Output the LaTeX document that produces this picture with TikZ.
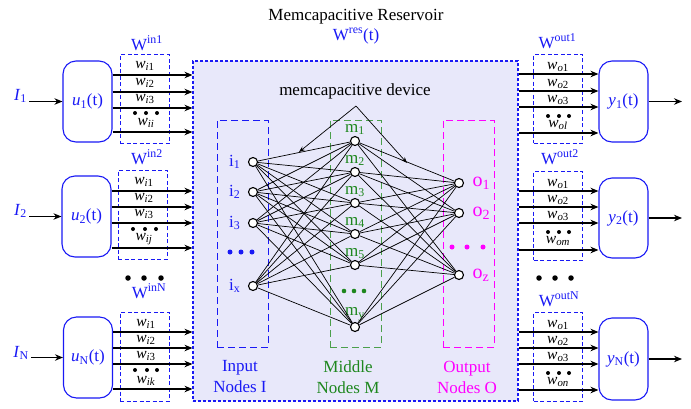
\documentclass[tikz,border=0pt]{standalone}
\usepackage{fontspec}
\setmainfont{Liberation Serif}
\usetikzlibrary{arrows.meta}
\definecolor{resblue}{RGB}{25,25,245}
\definecolor{resgreen}{RGB}{30,135,30}
\definecolor{resmag}{RGB}{255,0,255}
\definecolor{resfill}{RGB}{232,232,250}
\begin{document}
\begin{tikzpicture}[x=1pt,y=-1pt,
  font=\fontsize{17}{21}\selectfont,
  arr/.style={-{Stealth[length=8pt,width=6.5pt]}, line width=1.1pt},
  thinarr/.style={-{Stealth[length=6pt,width=4.5pt]}, line width=0.7pt},
  unit/.style={draw=resblue, line width=1.1pt, rounded corners=13pt,
    minimum width=49pt, minimum height=81pt, inner sep=0pt, text=resblue},
  wbox/.style={draw=resblue, dash pattern=on 4pt off 2.5pt, line width=1pt,
    minimum width=49pt, minimum height=89pt, inner sep=0pt},
  grpbox/.style={dash pattern=on 7pt off 4pt, line width=1pt,
    minimum width=51pt, minimum height=227pt, inner sep=0pt},
  wlab/.style={font=\fontsize{15.5}{18}\selectfont, anchor=base, inner sep=0pt},
  wtitle/.style={anchor=base, inner sep=0pt, text=resblue},
  ilab/.style={anchor=base east, inner sep=2pt, text=resblue},
  neuron/.style={circle, draw, line width=1.1pt, fill=white, inner sep=0pt, minimum size=9pt},
  link/.style={line width=0.7pt},
  dot/.style={circle, fill, inner sep=0pt, minimum size=5pt},
  sdot/.style={circle, fill, inner sep=0pt, minimum size=4pt}
]
\useasboundingbox (0,0) rectangle (691,408);

% titles
\node[anchor=base] (title) at (356,20) {Memcapacitive Reservoir};
\node[anchor=base, text=resblue] (wres) at (356,40) {W\textsuperscript{res}(t)};

% reservoir
\node[draw=resblue, fill=resfill, dash pattern=on 3pt off 2pt, line width=1.1pt,
  minimum width=325pt, minimum height=340pt, inner sep=0pt] (res) at (355.5,231) {};

% node groups
\node[grpbox, draw=resblue] (ibox) at (242.5,233.5) {};
\node[grpbox, draw=resgreen!80!white] (mbox) at (355.5,233.5) {};
\node[grpbox, draw=resmag] (obox) at (468.5,233.5) {};

\node[align=center, text=resblue] (ilabel) at (240,377) {Input\\Nodes I};
\node[align=center, text=resgreen] (mlabel) at (348,377) {Middle\\Nodes M};
\node[align=center, text=resmag] (olabel) at (467,377) {Output\\Nodes O};

% network
\foreach \n/\y/\s in {i1/162/1, i2/192/2, i3/223/3, ix/286/x}
  \node[neuron, label={[text=resblue, label distance=4pt]left:i\textsubscript{\s}}] (\n) at (253,\y) {};
\foreach \n/\y/\s in {m1/141/1, m2/172/2, m3/203/3, m4/234/4, m5/265/5, my/327/y}
  \node[neuron, label={[text=resgreen, inner sep=1pt, label distance=0pt]above:m\textsubscript{\s}}] (\n) at (355,\y) {};
\foreach \n/\y/\s in {o1/183/1, o2/213/2, oz/275/z}
  \node[neuron, label={[text=resmag, font=\fontsize{20}{24}\selectfont, label distance=5pt]right:o\textsubscript{\s}}] (\n) at (459,\y) {};

\foreach \a in {i1,i2,i3,ix}
  \foreach \b in {m1,m2,m3,m4,m5,my}
    \draw[link] (\a) -- (\b);
\foreach \a in {m1,m2,m3,m4,m5,my}
  \foreach \b in {o1,o2,oz}
    \draw[link] (\a) -- (\b);

\foreach \x in {230,241,252} \node[dot, text=resblue, fill=resblue] at (\x,252) {};
\foreach \x in {344,354,364} \node[dot, fill=resgreen, minimum size=4.6pt] at (\x,291) {};
\foreach \x in {452,467,483} \node[dot, fill=resmag] at (\x,247) {};

% device label
\node[anchor=base] (dev) at (355,95) {memcapacitive device};
\coordinate (apex) at (356,106);
\coordinate (devl) at (299,152);
\coordinate (devr) at (407,163);
\draw[thinarr] (apex) -- (devl);
\draw[thinarr] (apex) -- (devr);

% ---------- input side ----------
\node[unit] (u1) at (87.5,101.5) {\textit{u}\textsubscript{1}(t)};
\node[unit] (u2) at (86.5,216.5) {\textit{u}\textsubscript{2}(t)};
\node[unit] (uN) at (88,357.5) {\textit{u}\textsubscript{N}(t)};

\node[ilab] (I1) at (29,100) {\textit{I}\textsubscript{1}};
\node[ilab] (I2) at (29,215) {\textit{I}\textsubscript{2}};
\node[ilab] (IN) at (31,357) {\textit{I}\textsubscript{N}};
\draw[arr] (I1.east |- u1.west) -- (u1.west);
\draw[arr] (I2.east |- u2.west) -- (u2.west);
\draw[arr] (IN.east |- uN.west) -- (uN.west);

\node[wbox] (win1) at (144.5,99) {};
\node[wbox] (win2) at (142.5,214.5) {};
\node[wbox] (winN) at (144.5,356.5) {};
\node[wtitle] (win1t) at (147,50) {W\textsuperscript{in1}};
\node[wtitle] (win2t) at (147,164) {W\textsuperscript{in2}};
\node[wtitle] (winNt) at (149,298) {W\textsuperscript{inN}};

% weighted input lines
\foreach \y/\t in {75/1, 92/2, 108/3} {
  \draw[arr] (u1.east |- 0,\y) -- (res.west |- 0,\y);
  \node[wlab] at (145,\y-7) {\textit{w}\textsubscript{\textit{i}\t}};
}
\draw[arr] (u1.east |- 0,132) -- (res.west |- 0,132);
\node[wlab] at (146,125) {\textit{w}\textsubscript{\textit{ii}}};
\foreach \x in {135,146,157} \node[sdot] at (\x,113) {};

\foreach \y/\t in {191/1, 207/2, 223/3} {
  \draw[arr] (u2.east |- 0,\y) -- (res.west |- 0,\y);
  \node[wlab] at (144,\y-7) {\textit{w}\textsubscript{\textit{i}\t}};
}
\draw[arr] (u2.east |- 0,248) -- (res.west |- 0,248);
\node[wlab] at (144,240) {\textit{w}\textsubscript{\textit{ij}}};
\foreach \x in {133,145,156} \node[sdot] at (\x,229) {};

\foreach \y/\t in {332/1, 348/2, 364/3} {
  \draw[arr] (uN.east |- 0,\y) -- (res.west |- 0,\y);
  \node[wlab] at (146,\y-6) {\textit{w}\textsubscript{\textit{i}\t}};
}
\draw[arr] (uN.east |- 0,389) -- (res.west |- 0,389);
\node[wlab] at (146,383) {\textit{w}\textsubscript{\textit{ik}}};
\foreach \x in {135,147,157} \node[sdot] at (\x,370) {};

\foreach \x in {128,144,161} \node[dot, minimum size=5.5pt] at (\x,278) {};

% ---------- output side ----------
\node[unit] (y1) at (623.5,101.5) {\textit{y}\textsubscript{1}(t)};
\node[unit, minimum height=80pt] (y2) at (623.5,218) {\textit{y}\textsubscript{2}(t)};
\node[unit, minimum height=82pt] (yN) at (623.5,359) {\textit{y}\textsubscript{N}(t)};

\coordinate (y1o) at (682,101.5);
\coordinate (y2o) at (682,218);
\coordinate (yNo) at (682,359);
\draw[arr] (y1) -- (y1o);
\draw[arr] (y2) -- (y2o);
\draw[arr] (yN) -- (yNo);

\node[wbox] (wout1) at (558,98.5) {};
\node[wbox] (wout2) at (558,215.5) {};
\node[wbox] (woutN) at (558,356.5) {};
\node[wtitle] (wout1t) at (557.5,48) {W\textsuperscript{out1}};
\node[wtitle] (wout2t) at (560,164) {W\textsuperscript{out2}};
\node[wtitle] (woutNt) at (559,306) {W\textsuperscript{outN}};

\foreach \y/\t in {74/1, 91/2, 107/3} {
  \draw[arr] (res.east |- 0,\y) -- (y1.west |- 0,\y);
  \node[wlab] at (558,\y-5) {\textit{w}\textsubscript{\textit{o}\t}};
}
\draw[arr] (res.east |- 0,133) -- (y1.west |- 0,133);
\node[wlab] at (558,127) {\textit{w}\textsubscript{\textit{ol}}};
\foreach \x in {548,559,569} \node[sdot] at (\x,116) {};

\foreach \y/\t in {191/1, 207/2, 223/3} {
  \draw[arr] (res.east |- 0,\y) -- (y2.west |- 0,\y);
  \node[wlab] at (558,\y-5) {\textit{w}\textsubscript{\textit{o}\t}};
}
\draw[arr] (res.east |- 0,250) -- (y2.west |- 0,250);
\node[wlab] at (558,243) {\textit{w}\textsubscript{\textit{om}}};
\foreach \x in {548,559,569} \node[sdot] at (\x,232) {};

\foreach \y/\t in {332/1, 348/2, 364/3} {
  \draw[arr] (res.east |- 0,\y) -- (yN.west |- 0,\y);
  \node[wlab] at (558,\y-5) {\textit{w}\textsubscript{\textit{o}\t}};
}
\draw[arr] (res.east |- 0,390) -- (yN.west |- 0,390);
\node[wlab] at (558,384) {\textit{w}\textsubscript{\textit{on}}};
\foreach \x in {548,559,569} \node[sdot] at (\x,373) {};

\foreach \x in {539,555,571} \node[dot, minimum size=5.5pt] at (\x,278) {};
\end{tikzpicture}
\end{document}
